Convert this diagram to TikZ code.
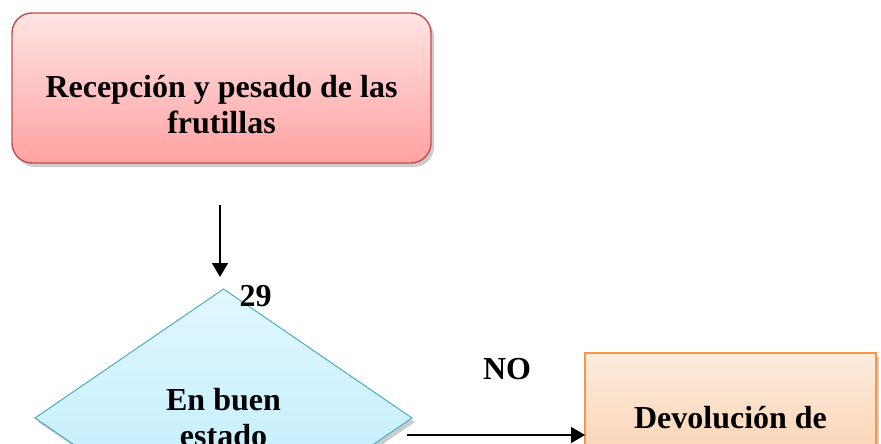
\documentclass[tikz,border=0pt]{standalone}
\usepackage{fontspec}
\setmainfont{Liberation Serif}
\usetikzlibrary{shapes.geometric,shadows,arrows.meta,positioning}
\definecolor{redline}{RGB}{192,80,77}
\definecolor{redtop}{RGB}{255,228,228}
\definecolor{redbottom}{RGB}{255,162,162}
\definecolor{blueline}{RGB}{75,172,198}
\definecolor{bluetop}{RGB}{225,247,255}
\definecolor{bluebottom}{RGB}{184,236,252}
\definecolor{orangeline}{RGB}{247,150,70}
\definecolor{orangetop}{RGB}{253,236,222}
\definecolor{orangebottom}{RGB}{251,206,170}
\newcommand*\txtsize{\fontsize{32}{36}\selectfont\bfseries}
\tikzset{
    txt/.style    = {font=\txtsize, align=center, inner sep=0pt},
    shade/.style  = {drop shadow={shadow xshift=3pt, shadow yshift=-4pt, fill=black!40}},
    box/.style    = {txt, shade, line width=1.4pt, outer sep=0pt},
    redbox/.style = {box, draw=redline, rounded corners=20pt,
                    top color=redtop, bottom color=redbottom,
                    minimum width=419pt, minimum height=150pt},
    bluedec/.style = {box, diamond, draw=blueline, line width=1pt,
                    top color=bluetop, bottom color=bluebottom,
                    minimum width=377pt, minimum height=258pt},
    orangebox/.style = {box, draw=orangeline,
                    top color=orangetop, bottom color=orangebottom,
                    minimum width=291pt, minimum height=130pt},
    flecha/.style = {line width=1.6pt, -{Triangle[width=16pt,length=14pt]}},
}

\begin{document}
\begin{tikzpicture}[x=1pt,y=-1pt]
      % page frame, everything below it is cut off
      \useasboundingbox (0,0) rectangle (881,444);
      \clip (0,0) rectangle (881,444);

      % Draw the three boxes
      \node[redbox] (rec) at (221.5,88) {};
      \node[txt] (rectxt) at ([yshift=-17pt]rec.center) {Recepción y pesado de las\\frutillas};
      \node[bluedec] (dec) at (223.5,418) {En buen\\estado};
      \node[orangebox] (dev) at (730.5,418) {Devolución de};

      % Labels
      \node[txt] (num) at ([xshift=32pt,yshift=-7pt]dec.north) {29};
      \node[txt] (no) at (507,369) {NO};

      % Arrows
      \coordinate (in) at ([xshift=-1.5pt,yshift=-42pt]rec.south);
      \coordinate (intip) at ([xshift=-3.5pt,yshift=12pt]dec.north);
      \draw[flecha] (in) -- (intip);
      \coordinate (out) at ([xshift=-5pt,yshift=-17pt]dec.east);
      \draw[flecha] (out) -- (out -| dev.west);
    \end{tikzpicture}
\end{document}
